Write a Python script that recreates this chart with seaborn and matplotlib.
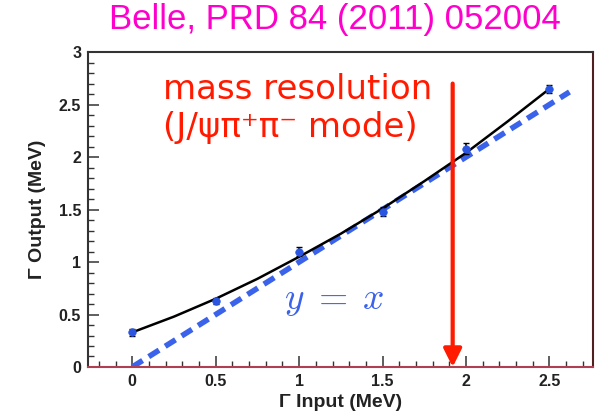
import numpy as np
import pandas as pd
import matplotlib
matplotlib.use("Agg")
import matplotlib.pyplot as plt
import seaborn as sns
from matplotlib.ticker import MultipleLocator

# ---- data ----
input_width = [0.0, 0.5, 1.0, 1.5, 2.0, 2.5]
output_width = [0.33, 0.63, 1.10, 1.48, 2.08, 2.65]
output_err = [0.03, 0.03, 0.04, 0.04, 0.05, 0.04]

curve_x = [0.0, 0.25, 0.5, 0.75, 1.0, 1.25, 1.5, 1.75, 2.0, 2.25, 2.5]
curve_y = [0.33, 0.48, 0.65, 0.84, 1.05, 1.27, 1.51, 1.77, 2.04, 2.34, 2.65]

diag_x = [0.0, 2.62]
diag_y = [0.0, 2.62]

resolution_x = 1.92
resolution_top = 2.70

x_ticks = [0, 0.5, 1, 1.5, 2, 2.5]
x_tick_labels = ["0", "0.5", "1", "1.5", "2", "2.5"]
y_ticks = [0, 0.5, 1, 1.5, 2, 2.5, 3]
y_tick_labels = ["0", "0.5", "1", "1.5", "2", "2.5", "3"]

title = "Belle, PRD 84 (2011) 052004"
xlabel = "\u0393 Input (MeV)"
ylabel = "\u0393 Output (MeV)"
note1 = "mass resolution"
note2 = "(J/\u03c8\u03c0\u207a\u03c0\u207b mode)"
diag_text = r"$y\;=\;x$"

sns.set_theme(style="ticks")
plt.rcParams["font.family"] = ["Liberation Sans", "DejaVu Sans"]
plt.rcParams["mathtext.fontset"] = "cm"

fig = plt.figure(figsize=(5.96, 4.16), dpi=100)
ax = fig.add_axes([0.1477, 0.1178, 0.847, 0.757])

df_pts = pd.DataFrame({"x": input_width, "y": output_width})
df_curve = pd.DataFrame({"x": curve_x, "y": curve_y})
df_diag = pd.DataFrame({"x": diag_x, "y": diag_y})

sns.lineplot(data=df_diag, x="x", y="y", ax=ax, color="#3a62ea", lw=4,
             linestyle=(0, (2.2, 1.3)), zorder=2)
sns.lineplot(data=df_curve, x="x", y="y", ax=ax, color="black", lw=1.8, zorder=3)
ax.errorbar(input_width, output_width, yerr=output_err, fmt="none",
            ecolor="black", elinewidth=1.2, capsize=2, zorder=4)
sns.scatterplot(data=df_pts, x="x", y="y", ax=ax, color="#2a55e0", s=30,
                edgecolor="#2a55e0", marker="o", zorder=5)

# red arrow
ax.annotate("", xy=(resolution_x, 0.0), xytext=(resolution_x, resolution_top),
            arrowprops=dict(arrowstyle="-|>,head_length=0.9,head_width=0.45",
                            color="#ff1a00", lw=3, shrinkA=0, shrinkB=0),
            zorder=6)

ax.text(0.185, 2.64, note1, color="#ff1a00", fontsize=24.5, family="DejaVu Sans",
        va="center", ha="left")
ax.text(0.185, 2.28, note2, color="#ff1a00", fontsize=24.5, family="DejaVu Sans",
        va="center", ha="left")
ax.text(0.91, 0.64, diag_text, color="#3a62ea", fontsize=27, va="center",
        ha="left")

ax.set_xlim(-0.265, 2.76)
ax.set_ylim(0, 3.0)
ax.set_xticks(x_ticks)
ax.set_xticklabels(x_tick_labels)
ax.set_yticks(y_ticks)
ax.set_yticklabels(y_tick_labels)
ax.xaxis.set_minor_locator(MultipleLocator(0.1))
ax.yaxis.set_minor_locator(MultipleLocator(0.1))
ax.tick_params(which="major", direction="in", length=8, width=1.1,
               labelsize=11.5, pad=5, color="#333333")
ax.tick_params(which="minor", direction="in", length=4, width=1.0,
               color="#333333")
for lbl in ax.get_xticklabels() + ax.get_yticklabels():
    lbl.set_fontweight("bold")
    lbl.set_color("#222222")

ax.set_xlabel(xlabel, fontsize=14, fontweight="bold", color="#222222", labelpad=4)
ax.set_ylabel(ylabel, fontsize=14, fontweight="bold", color="#222222", labelpad=9)

for sp in ax.spines.values():
    sp.set_linewidth(1.5)
    sp.set_color("#333333")
ax.spines["bottom"].set_color("#b04050")
ax.spines["right"].set_color("#502020")

fig.text(0.562, 0.952, title, color="#ff00cc", fontsize=25, ha="center",
         va="center")

fig.savefig("out.png", dpi=100)
